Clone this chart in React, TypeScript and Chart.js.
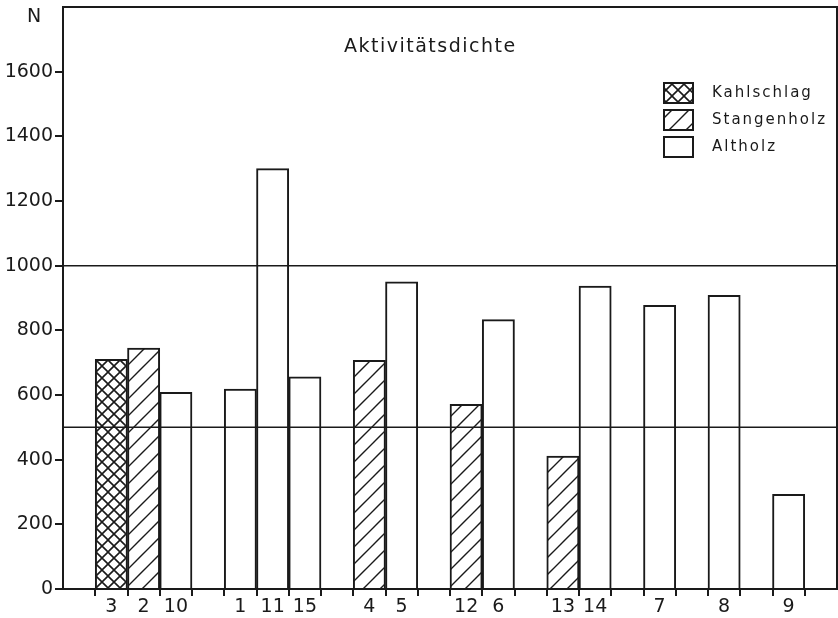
import React, { useEffect, useRef } from 'react';
import { Chart, registerables } from 'chart.js';

Chart.register(...registerables);

// ---- data ----
const slotLabels = ['', '3', '2', '10', '', '1', '11', '15', '', '4', '5', '', '12', '6', '', '13', '14', '', '7', '', '8', '', '9', ''];
const kahlschlag = [null, 710, null, null, null, null, null, null, null, null, null, null, null, null, null, null, null, null, null, null, null, null, null, null];
const stangenholz = [null, null, 745, null, null, null, null, null, null, 707, null, null, 571, null, null, 411, null, null, null, null, null, null, null, null];
const altholz = [null, null, null, 608, null, 618, 1300, 656, null, null, 950, null, null, 833, null, null, 937, null, 877, null, 908, null, 293, null];
const seriesNames = ['Kahlschlag', 'Stangenholz', 'Altholz'];
const referenceLines = [500, 1000];
const yMax = 1800;
const yStep = 200;
const titleText = 'Aktivitätsdichte';
const axisTitle = 'N';

const INK = '#1a1a1a';
const FONT = '"DejaVu Sans", sans-serif';

function crossPattern(): CanvasPattern | string {
  const c = document.createElement('canvas');
  c.width = 12; c.height = 12;
  const g = c.getContext('2d');
  if (!g) return '#fff';
  g.fillStyle = '#fff'; g.fillRect(0, 0, 12, 12);
  g.strokeStyle = INK; g.lineWidth = 1.6;
  g.beginPath();
  g.moveTo(-1, -1); g.lineTo(13, 13);
  g.moveTo(-1, 13); g.lineTo(13, -1);
  g.stroke();
  return g.createPattern(c, 'repeat') || '#fff';
}

function diagPattern(): CanvasPattern | string {
  const s = 17;
  const c = document.createElement('canvas');
  c.width = s; c.height = s;
  const g = c.getContext('2d');
  if (!g) return '#fff';
  g.fillStyle = '#fff'; g.fillRect(0, 0, s, s);
  g.strokeStyle = INK; g.lineWidth = 1.4;
  g.beginPath();
  g.moveTo(-1, s + 1); g.lineTo(s + 1, -1);
  g.moveTo(-2, 2); g.lineTo(2, -2);
  g.moveTo(s - 2, s + 2); g.lineTo(s + 2, s - 2);
  g.stroke();
  return g.createPattern(c, 'repeat') || '#fff';
}

const decorPlugin = {
  id: 'decor',
  afterDatasetsDraw(chart: any) {
    const { ctx, chartArea: a, scales } = chart;
    const y = scales.y;
    ctx.save();
    // reference lines
    ctx.strokeStyle = INK;
    ctx.lineWidth = 1.5;
    referenceLines.forEach((v) => {
      const py = y.getPixelForValue(v);
      ctx.beginPath();
      ctx.moveTo(a.left, py);
      ctx.lineTo(a.right, py);
      ctx.stroke();
    });
    // frame top & right
    ctx.lineWidth = 2;
    ctx.beginPath();
    ctx.moveTo(a.left - 1, a.top);
    ctx.lineTo(a.right, a.top);
    ctx.lineTo(a.right, a.bottom);
    ctx.stroke();
    // axis title N
    ctx.fillStyle = INK;
    ctx.font = `19px ${FONT}`;
    ctx.textAlign = 'center';
    ctx.textBaseline = 'middle';
    ctx.fillText(axisTitle, 34, 17);
    // title
    (ctx as any).letterSpacing = '1.5px';
    ctx.font = `19px ${FONT}`;
    ctx.textAlign = 'left';
    ctx.fillText(titleText, 344, 47);
    // legend
    (ctx as any).letterSpacing = '2px';
    ctx.font = `15px ${FONT}`;
    const ds = chart.data.datasets;
    const rows = [93, 120, 147];
    ds.forEach((d: any, i: number) => {
      const cy = rows[i];
      ctx.fillStyle = d.backgroundColor;
      ctx.fillRect(664, cy - 10, 29, 20);
      ctx.strokeStyle = INK;
      ctx.lineWidth = 2;
      ctx.strokeRect(664, cy - 10, 29, 20);
      ctx.fillStyle = INK;
      ctx.textAlign = 'left';
      ctx.textBaseline = 'middle';
      ctx.fillText(d.label, 712, cy);
    });
    ctx.restore();
  },
};

export default function App() {
  const ref = useRef<HTMLCanvasElement | null>(null);
  useEffect(() => {
    document.body.style.margin = '0';
    const canvas = ref.current;
    if (!canvas) return;
    const bar = (label: string, data: (number | null)[], bg: any) => ({
      label,
      data,
      backgroundColor: bg,
      borderColor: INK,
      borderWidth: 2,
      borderSkipped: 'start',
      barPercentage: 1,
      categoryPercentage: 1,
      grouped: false,
    });
    const chart = new Chart(canvas, {
      type: 'bar',
      data: {
        labels: slotLabels,
        datasets: [
          bar(seriesNames[0], kahlschlag, crossPattern()),
          bar(seriesNames[1], stangenholz, diagPattern()),
          bar(seriesNames[2], altholz, '#ffffff'),
        ] as any,
      },
      options: {
        animation: false,
        responsive: false,
        maintainAspectRatio: false,
        layout: { padding: { top: 7, right: 1, left: 0, bottom: 0 } },
        plugins: { legend: { display: false }, tooltip: { enabled: false }, title: { display: false } },
        scales: {
          x: {
            type: 'category',
            offset: true,
            grid: {
              offset: true,
              drawOnChartArea: false,
              drawTicks: true,
              tickLength: 7,
              lineWidth: 2,
              tickColor: (c: any) => (c.index === undefined || c.index === 0 ? 'rgba(0,0,0,0)' : INK),
            },
            border: { display: true, color: INK, width: 2 },
            ticks: {
              autoSkip: false,
              maxRotation: 0,
              minRotation: 0,
              padding: 0,
              color: INK,
              font: { family: FONT, size: 19 },
            },
            afterFit: (s: any) => { s.height = 29; s.paddingLeft = 0; s.paddingRight = 0; },
          },
          y: {
            min: 0,
            max: yMax,
            grid: {
              drawOnChartArea: false,
              drawTicks: true,
              tickLength: 8,
              lineWidth: 2,
              tickColor: (c: any) => (c.tick && c.tick.value >= yMax ? 'rgba(0,0,0,0)' : INK),
            },
            border: { display: true, color: INK, width: 2 },
            ticks: {
              stepSize: yStep,
              padding: 2,
              color: INK,
              font: { family: FONT, size: 19 },
              callback: (v: any) => (Number(v) >= yMax ? '' : String(v)),
            },
            afterFit: (s: any) => { s.width = 63; s.paddingTop = 0; s.paddingBottom = 0; },
          },
        },
      },
      plugins: [decorPlugin],
    } as any);
    return () => chart.destroy();
  }, []);
  return (
    <div style={{ width: 838, height: 618, background: '#fff' }}>
      <canvas ref={ref} width={838} height={618} style={{ display: 'block' }} />
    </div>
  );
}
